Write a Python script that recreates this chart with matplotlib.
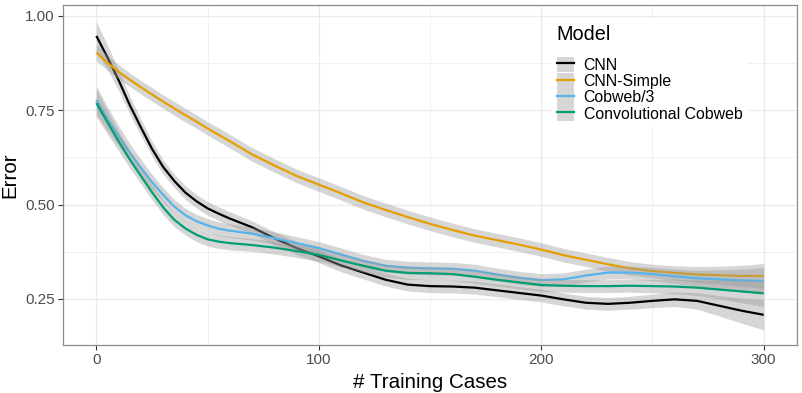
import numpy as np
import matplotlib
matplotlib.use("Agg")
import matplotlib.pyplot as plt
from matplotlib.patches import Patch
from matplotlib.lines import Line2D
from matplotlib.legend_handler import HandlerTuple

plt.rcParams["font.family"] = ["Liberation Sans", "DejaVu Sans"]

# x positions (# training cases)
cases = [0, 5, 10, 15, 20, 25, 30, 35, 40, 45, 50, 55, 60,
         70, 80, 90, 100, 110, 120, 130, 140, 150, 160, 170, 180, 190,
         200, 210, 220, 230, 240, 250, 260, 270, 280, 290, 300]

# smoothed error per model
cnn = [0.947, 0.890, 0.830, 0.764, 0.705, 0.648, 0.600, 0.563, 0.532, 0.509, 0.490, 0.476, 0.463,
       0.440, 0.411, 0.385, 0.363, 0.339, 0.320, 0.301, 0.288, 0.284, 0.283, 0.280, 0.273, 0.266,
       0.259, 0.249, 0.240, 0.237, 0.240, 0.245, 0.249, 0.245, 0.232, 0.219, 0.208]
cnn_simple = [0.903, 0.876, 0.852, 0.831, 0.811, 0.792, 0.773, 0.755, 0.737, 0.720, 0.702, 0.685, 0.668,
              0.633, 0.604, 0.576, 0.553, 0.530, 0.506, 0.486, 0.467, 0.449, 0.433, 0.418, 0.406, 0.394,
              0.381, 0.366, 0.354, 0.342, 0.331, 0.324, 0.319, 0.315, 0.313, 0.311, 0.311]
cobweb3 = [0.777, 0.727, 0.682, 0.638, 0.598, 0.560, 0.526, 0.495, 0.472, 0.456, 0.445, 0.436, 0.431,
           0.423, 0.411, 0.398, 0.385, 0.368, 0.351, 0.338, 0.333, 0.331, 0.330, 0.325, 0.315, 0.306,
           0.300, 0.302, 0.312, 0.320, 0.320, 0.316, 0.310, 0.305, 0.302, 0.299, 0.298]
conv_cobweb = [0.769, 0.718, 0.668, 0.620, 0.576, 0.533, 0.493, 0.460, 0.437, 0.420, 0.408, 0.402, 0.398,
               0.393, 0.386, 0.377, 0.367, 0.352, 0.338, 0.325, 0.319, 0.318, 0.316, 0.309, 0.301, 0.294,
               0.287, 0.285, 0.284, 0.284, 0.285, 0.284, 0.283, 0.280, 0.275, 0.270, 0.265]

# half-width of the grey confidence band
cnn_se = [0.038, 0.032, 0.027, 0.024, 0.022, 0.020, 0.019, 0.018, 0.018, 0.018, 0.018, 0.018, 0.018,
          0.017, 0.017, 0.017, 0.017, 0.017, 0.017, 0.017, 0.017, 0.017, 0.017, 0.017, 0.017, 0.017,
          0.017, 0.017, 0.017, 0.017, 0.017, 0.018, 0.019, 0.022, 0.027, 0.033, 0.040]
cnn_simple_se = [0.022, 0.020, 0.019, 0.018, 0.018, 0.018, 0.018, 0.018, 0.018, 0.018, 0.018, 0.018, 0.018,
                 0.018, 0.018, 0.018, 0.018, 0.018, 0.018, 0.018, 0.018, 0.018, 0.018, 0.018, 0.018, 0.018,
                 0.018, 0.018, 0.018, 0.018, 0.018, 0.018, 0.019, 0.021, 0.024, 0.028, 0.033]
cobweb3_se = [0.038, 0.032, 0.027, 0.024, 0.022, 0.020, 0.019, 0.018, 0.018, 0.018, 0.018, 0.018, 0.018,
              0.017, 0.017, 0.017, 0.017, 0.017, 0.017, 0.017, 0.017, 0.017, 0.017, 0.017, 0.017, 0.017,
              0.017, 0.017, 0.017, 0.017, 0.017, 0.018, 0.019, 0.021, 0.025, 0.030, 0.035]
conv_cobweb_se = [0.036, 0.031, 0.026, 0.023, 0.021, 0.020, 0.019, 0.018, 0.018, 0.018, 0.018, 0.018, 0.018,
                  0.017, 0.017, 0.017, 0.017, 0.017, 0.017, 0.017, 0.017, 0.017, 0.017, 0.017, 0.017, 0.017,
                  0.017, 0.017, 0.017, 0.017, 0.017, 0.018, 0.019, 0.021, 0.025, 0.030, 0.035]

models = ["CNN", "CNN-Simple", "Cobweb/3", "Convolutional Cobweb"]
colors = ["#000000", "#E69F00", "#56B4E9", "#009E73"]
series = [cnn, cnn_simple, cobweb3, conv_cobweb]
bands = [cnn_se, cnn_simple_se, cobweb3_se, conv_cobweb_se]

x_ticks = [0, 100, 200, 300]
y_ticks = [0.25, 0.50, 0.75, 1.00]
y_tick_labels = ["0.25", "0.50", "0.75", "1.00"]

fig = plt.figure(figsize=(8.03, 3.93), dpi=100)
ax = fig.add_axes([63 / 803, 1 - 345 / 393, (797 - 63) / 803, (345 - 5) / 393])

x = np.array(cases)
z = 3
for name, col, y, se in zip(models, colors, series, bands):
    y = np.array(y)
    se = np.array(se)
    # ribbon then line, group by group like geom_smooth
    ax.fill_between(x, y - se, y + se, color="#999999", alpha=0.4, linewidth=0, zorder=z)
    ax.plot(x, y, color=col, lw=1.6, zorder=z + 1, solid_capstyle="butt")
    z += 2

ax.set_xlim(-15, 315)
ax.set_ylim(0.128, 1.029)
ax.set_xticks(x_ticks)
ax.set_xticks([50, 150, 250], minor=True)
ax.set_yticks(y_ticks)
ax.set_yticklabels(y_tick_labels)
ax.set_yticks([0.375, 0.625, 0.875], minor=True)

ax.grid(which="major", color="#EBEBEB", lw=1.0, zorder=0)
ax.grid(which="minor", color="#EBEBEB", lw=0.5, zorder=0)
ax.set_axisbelow(True)

for s in ax.spines.values():
    s.set_color("#8C8C8C")
    s.set_linewidth(0.9)

ax.tick_params(which="major", length=3.3, width=0.8, color="#333333",
               labelsize=11, labelcolor="#4D4D4D", pad=2.8)
ax.tick_params(which="minor", length=0)

ax.set_xlabel("# Training Cases", fontsize=14.8, labelpad=4)
ax.set_ylabel("Error", fontsize=14.8, labelpad=4)

handles = [(Patch(facecolor="#D6D6D6", edgecolor="none"), Line2D([], [], color=c, lw=1.6))
           for c in colors]
leg = ax.legend(handles, models, title="Model", loc="upper left",
                bbox_to_anchor=(551 / 803, 1 - 19 / 393), bbox_transform=fig.transFigure,
                handler_map={tuple: HandlerTuple(ndivide=1, pad=0)},
                fontsize=11.4, title_fontsize=14.3, frameon=True, framealpha=1,
                edgecolor="none", facecolor="white", fancybox=False,
                handlelength=1.08, handleheight=1.15, labelspacing=0.0,
                handletextpad=0.63, borderpad=0.35, borderaxespad=0)
leg._legend_box.align = "left"
leg._legend_box.sep = 9.5
leg.set_zorder(20)

fig.savefig("out.png", dpi=100)
